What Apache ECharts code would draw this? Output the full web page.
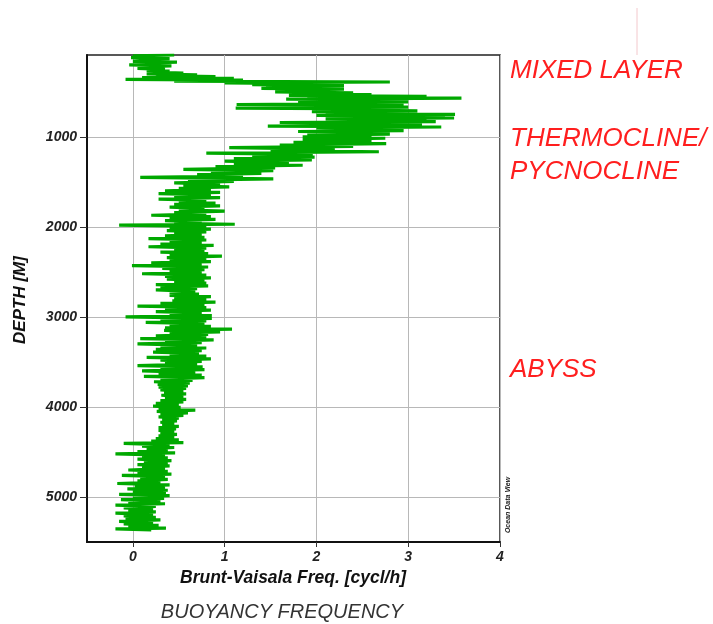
<!DOCTYPE html>
<html style="height: 100%">
<head>
    <meta charset="utf-8">
    <title>Buoyancy frequency</title>
</head>
<body style="height: 100%; margin: 0; background: #fff">
<div id="container" style="width: 713px; height: 624px"></div>
<script type="text/javascript" src="https://cdn.jsdelivr.net/npm/echarts@6/dist/echarts.min.js"></script>

<script type="text/javascript">
    // profile, top to bottom (depth in m, N in cycl/h)
    var mixedDepth = [90, 100, 110, 120, 130, 140, 150, 160, 170, 180,
        190, 200, 210, 220, 230, 240, 250, 260, 270, 280,
        290, 300, 310, 320, 330, 340, 350, 360, 370, 380];
    var mixedFreq = [0.45, 0.00, 0.30, -0.02, 0.40, 0.08, 0.28, 0.00, 0.48, 0.10,
        0.32, -0.04, 0.42, 0.12, 0.25, 0.05, 0.35, 0.15, 0.40, 0.20,
        0.55, 0.15, 0.70, 0.25, 0.90, 0.10, 1.10, -0.08, 1.20, 0.45];

    var thermoDepth = [390, 400, 410, 420, 430, 440, 450, 460, 470, 480,
        490, 500, 510, 520, 530, 540, 550, 560, 570, 580,
        590, 600, 610, 620, 630, 640, 650, 660, 670, 680,
        690, 700, 710, 720, 730, 740, 750, 760, 770, 780,
        790, 800, 810, 820, 830, 840, 850, 860, 870, 880,
        890, 900, 910, 920, 930, 940, 950, 960, 970, 980,
        990, 1000, 1015, 1030, 1045, 1060, 1075, 1090, 1105, 1120,
        1135, 1150, 1165, 1180, 1195, 1210, 1225, 1240, 1255, 1270,
        1285, 1300, 1315, 1330, 1345, 1360, 1375, 1390, 1405, 1420,
        1435, 1450, 1465, 1480, 1495, 1510, 1525, 1540, 1555, 1570,
        1585, 1600, 1615, 1630, 1645, 1660, 1675, 1690, 1705, 1720,
        1735, 1750, 1765, 1780, 1795, 1810, 1825, 1840, 1855, 1870,
        1885, 1900, 1915, 1930, 1945, 1960, 1970, 1980, 1995];
    var thermoFreq = [2.80, 1.00, 2.20, 1.30, 2.30, 1.45, 2.00, 1.40, 2.30, 1.60,
        2.10, 1.55, 2.40, 1.70, 2.60, 1.70, 3.20, 1.90, 3.58, 1.67,
        2.90, 2.10, 3.00, 1.80, 2.70, 1.13, 2.95, 1.90, 3.00, 1.12,
        2.80, 2.20, 3.10, 1.95, 3.05, 2.10, 3.51, 2.00, 3.40, 2.30,
        3.50, 2.10, 3.20, 2.40, 3.30, 1.60, 3.10, 2.20, 3.15, 1.47,
        3.36, 2.00, 2.90, 2.10, 2.95, 1.80, 2.70, 2.10, 2.80, 1.90,
        2.60, 1.85, 2.75, 1.85, 2.60, 1.75, 2.76, 1.60, 2.40, 1.05,
        2.20, 1.50, 2.68, 0.80, 1.96, 1.30, 1.98, 1.10, 1.95, 1.00,
        1.70, 1.10, 1.85, 0.90, 1.55, 0.55, 1.53, 0.85, 1.40, 0.70,
        1.20, 0.08, 1.53, 0.60, 1.10, 0.45, 0.95, 0.55, 1.05, 0.50,
        0.85, 0.35, 0.95, 0.28, 0.85, 0.45, 0.95, 0.28, 0.80, 0.50,
        0.90, 0.45, 0.95, 0.40, 0.78, 0.50, 1.00, 0.45, 0.80, 0.20,
        0.85, 0.40, 0.90, 0.35, 0.75, 0.45, 1.11, -0.15, 0.80];

    var deepDepth = [2010, 2025, 2040, 2055, 2070, 2085, 2100, 2115, 2130, 2145,
        2160, 2175, 2190, 2205, 2220, 2235, 2250, 2265, 2280, 2295,
        2310, 2325, 2340, 2355, 2370, 2385, 2400, 2415, 2430, 2445,
        2460, 2475, 2490, 2505, 2520, 2535, 2550, 2565, 2580, 2595,
        2610, 2625, 2640, 2655, 2670, 2685, 2700, 2715, 2730, 2745,
        2760, 2775, 2790, 2805, 2820, 2835, 2850, 2865, 2880, 2895,
        2910, 2925, 2940, 2955, 2970, 2985, 3000, 3015, 3030, 3045,
        3060, 3075, 3090, 3105, 3120, 3135, 3150, 3165, 3180, 3195,
        3210, 3225, 3240, 3255, 3270, 3285, 3300, 3315, 3330, 3345,
        3360, 3375, 3390, 3405, 3420, 3435, 3450, 3465, 3480, 3495,
        3510, 3525, 3540, 3555, 3570, 3585, 3600, 3615, 3630, 3645,
        3660, 3675, 3690, 3705, 3720, 3735, 3750, 3765, 3780, 3795,
        3810, 3825, 3840, 3855, 3870, 3885, 3900, 3915, 3930, 3945,
        3960, 3975, 3990];
    var deepFreq = [0.40, 0.85, 0.37, 0.80, 0.45, 0.75, 0.35, 0.78, 0.17, 0.80,
        0.40, 0.75, 0.30, 0.88, 0.17, 0.80, 0.45, 0.78, 0.30, 0.82,
        0.40, 0.97, 0.37, 0.80, 0.40, 0.85, 0.20, 0.75, -0.01, 0.82,
        0.32, 0.78, 0.40, 0.75, 0.10, 0.80, 0.35, 0.85, 0.37, 0.78,
        0.45, 0.80, 0.25, 0.82, 0.30, 0.70, 0.25, 0.68, 0.40, 0.72,
        0.40, 0.85, 0.45, 0.80, 0.43, 0.90, 0.30, 0.78, 0.05, 0.80,
        0.35, 0.85, 0.25, 0.75, 0.40, 0.86, -0.08, 0.86, 0.30, 0.80,
        0.14, 0.78, 0.40, 0.85, 0.35, 1.08, 0.34, 0.95, 0.40, 0.82,
        0.25, 0.80, 0.08, 0.88, 0.35, 0.75, 0.05, 0.70, 0.30, 0.80,
        0.25, 0.75, 0.22, 0.72, 0.40, 0.80, 0.15, 0.85, 0.30, 0.75,
        0.35, 0.70, 0.05, 0.76, 0.30, 0.78, 0.10, 0.68, 0.28, 0.75,
        0.12, 0.78, 0.30, 0.65, 0.23, 0.62, 0.27, 0.60, 0.28, 0.58,
        0.30, 0.55, 0.34, 0.58, 0.31, 0.55, 0.35, 0.58, 0.30, 0.55,
        0.25, 0.50, 0.22];

    var abyssDepth = [4005, 4020, 4035, 4050, 4065, 4080, 4095, 4110, 4125, 4140,
        4155, 4170, 4185, 4200, 4215, 4230, 4245, 4260, 4275, 4290,
        4305, 4320, 4335, 4350, 4365, 4380, 4395, 4405, 4420, 4435,
        4450, 4465, 4480, 4495, 4510, 4520, 4535, 4550, 4565, 4580,
        4595, 4610, 4625, 4640, 4655, 4670, 4685, 4700, 4715, 4730,
        4745, 4760, 4775, 4790, 4805, 4820, 4835, 4850, 4865, 4880,
        4895, 4910, 4925, 4940, 4955, 4970, 4985, 5000, 5015, 5030,
        5045, 5060, 5075, 5090, 5105, 5120, 5135, 5150, 5165, 5180,
        5195, 5210, 5225, 5240, 5255, 5270, 5285, 5300, 5315, 5330,
        5345, 5355, 5365];
    var abyssFreq = [0.52, 0.28, 0.68, 0.26, 0.60, 0.30, 0.55, 0.28, 0.50, 0.32,
        0.48, 0.30, 0.45, 0.32, 0.50, 0.28, 0.47, 0.28, 0.45, 0.30,
        0.48, 0.28, 0.45, 0.25, 0.50, 0.20, 0.55, -0.10, 0.40, 0.10,
        0.45, 0.15, 0.38, 0.05, 0.46, -0.19, 0.35, 0.10, 0.38, 0.05,
        0.42, 0.12, 0.38, 0.05, 0.40, 0.10, 0.35, -0.05, 0.38, 0.05,
        0.42, -0.12, 0.35, 0.08, 0.38, 0.05, 0.30, -0.17, 0.40, 0.02,
        0.35, -0.06, 0.38, 0.00, 0.36, -0.15, 0.40, 0.00, 0.34, -0.13,
        0.30, -0.05, 0.35, -0.19, 0.25, -0.10, 0.22, -0.05, 0.25, -0.19,
        0.22, -0.10, 0.25, -0.08, 0.30, -0.15, 0.22, -0.10, 0.28, -0.05,
        0.36, -0.19, 0.20];

    var freqTicks = [0, 1, 2, 3, 4];
    var depthTicks = [1000, 2000, 3000, 4000, 5000];
    var zoneLabels = ['MIXED LAYER', 'THERMOCLINE/', 'PYCNOCLINE', 'ABYSS'];

    var depth = mixedDepth.concat(thermoDepth, deepDepth, abyssDepth);
    var freq = mixedFreq.concat(thermoFreq, deepFreq, abyssFreq);
    var profile = [];
    for (var i = 0; i < depth.length; i++) {
        profile.push([freq[i], depth[i]]);
    }

    var dom = document.getElementById("container");
    var myChart = echarts.init(dom, null, {renderer: 'canvas'});
    var font = "'Liberation Sans', Arial, sans-serif";
    var red = '#ff1e1e';

    var zoneY = [70, 138, 171, 369];
    var graphics = [];
    for (var k = 0; k < zoneLabels.length; k++) {
        graphics.push({
            type: 'text', left: 510, top: zoneY[k] - 12,
            style: {text: zoneLabels[k], fill: red, font: 'italic 26px ' + font}
        });
    }
    graphics.push({
        type: 'text', x: 20, y: 300, rotation: Math.PI / 2,
        style: {text: 'DEPTH [M]', fill: '#111', font: 'italic bold 17px ' + font,
            textAlign: 'center', textVerticalAlign: 'middle'}
    });
    graphics.push({
        type: 'text', x: 293, y: 578,
        style: {text: 'Brunt-Vaisala Freq. [cycl/h]', fill: '#111', font: 'italic bold 17.5px ' + font,
            textAlign: 'center', textVerticalAlign: 'middle'}
    });
    graphics.push({
        type: 'text', x: 282, y: 612,
        style: {text: 'BUOYANCY FREQUENCY', fill: '#333', font: 'italic 20px ' + font,
            textAlign: 'center', textVerticalAlign: 'middle'}
    });
    graphics.push({
        type: 'text', x: 508, y: 505, rotation: Math.PI / 2,
        style: {text: 'Ocean Data View', fill: '#222', font: 'italic bold 7px ' + font,
            textAlign: 'center', textVerticalAlign: 'middle'}
    });
    graphics.push({
        type: 'line', shape: {x1: 637, y1: 8, x2: 637, y2: 55},
        style: {stroke: '#f3c8cc', lineWidth: 1}
    });

    var option = {
        animation: false,
        backgroundColor: '#fff',
        grid: {
            left: 87, right: 213, top: 55, bottom: 82,
            show: true, borderColor: '#222', borderWidth: 1.5
        },
        xAxis: {
            type: 'value', min: -0.5, max: 4,
            axisLine: {onZero: false, lineStyle: {color: '#111', width: 2}},
            axisTick: {customValues: freqTicks, length: 5, lineStyle: {color: '#333'}},
            axisLabel: {
                customValues: freqTicks, margin: 8, color: '#222',
                fontSize: 14, fontWeight: 'bold', fontStyle: 'italic', fontFamily: font,
                formatter: function (v) { return String(v); }
            },
            splitLine: {show: true, lineStyle: {color: '#b8b8b8', width: 1}}
        },
        yAxis: {
            type: 'value', inverse: true, min: 90, max: 5500,
            axisLine: {onZero: false, lineStyle: {color: '#111', width: 2}},
            axisTick: {customValues: depthTicks, length: 7, lineStyle: {color: '#333'}},
            axisLabel: {
                customValues: depthTicks, margin: 10, color: '#222',
                fontSize: 14, fontWeight: 'bold', fontStyle: 'italic', fontFamily: font,
                formatter: function (v) { return String(v); }
            },
            splitLine: {show: true, lineStyle: {color: '#b8b8b8', width: 1}}
        },
        graphic: graphics,
        series: [{
            type: 'line',
            data: profile,
            showSymbol: false,
            silent: true,
            lineStyle: {color: '#00a800', width: 3.2}
        }]
    };
    myChart.setOption(option);
</script>
</body>
</html>
